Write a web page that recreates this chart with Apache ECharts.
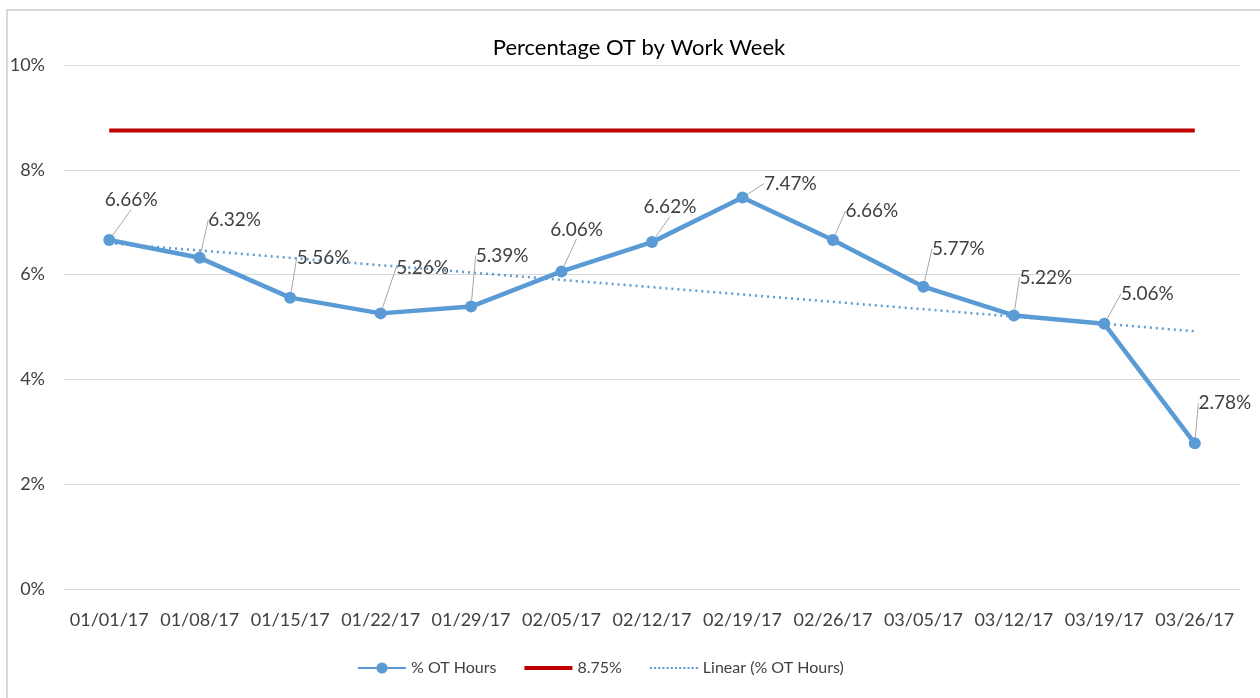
<!DOCTYPE html>
<html>
<head>
<meta charset="utf-8">
<script src="https://cdn.jsdelivr.net/npm/echarts@6/dist/echarts.min.js"></script>
<style>
  html, body { margin: 0; padding: 0; background: #fff; }
  #chart { width: 1260px; height: 698px; }
</style>
</head>
<body>
<div id="chart"></div>
<script>
// week labels
const weeks = ["01/01/17", "01/08/17", "01/15/17", "01/22/17", "01/29/17", "02/05/17", "02/12/17",
  "02/19/17", "02/26/17", "03/05/17", "03/12/17", "03/19/17", "03/26/17"];
// % OT Hours
const otHours = [6.66, 6.32, 5.56, 5.26, 5.39, 6.06, 6.62, 7.47, 6.66, 5.77, 5.22, 5.06, 2.78];
// target line
const target = [8.75, 8.75, 8.75, 8.75, 8.75, 8.75, 8.75, 8.75, 8.75, 8.75, 8.75, 8.75, 8.75];
// linear trend, read at first and last week
const trendEnds = [6.6, 4.92];
const yTicks = { min: 0, max: 10, interval: 2 };

// where each data label sits relative to its point (px)
const labelOffsets = [[22, -40], [35, -38], [33, -40], [42, -46], [31, -51], [15, -42], [18, -35],
  [48, -14], [39, -29], [35, -38], [32, -38], [43, -30], [30, -40]];

const font = "Lato, 'Open Sans', sans-serif";
const textColor = "#404040";

// legend icons: solid bar and dotted bar
const solidIcon = "path://M0,0h48v4h-48z";
let dots = "";
for (let i = 0; i < 12; i++) dots += "M" + (i * 4) + ",0h2v2h-2z";
const dottedIcon = "path://" + dots;

let myChart = echarts.init(document.getElementById("chart"));

myChart.setOption({
  animation: false,
  textStyle: { fontFamily: font },
  graphic: [{
    type: "rect",
    shape: { x: 7, y: 10, width: 1300, height: 720 },
    style: { fill: "none", stroke: "#d9d9d9", lineWidth: 2 },
    silent: true
  }],
  title: {
    text: "Percentage OT by Work Week",
    left: 634,
    textAlign: "center",
    top: 32,
    textStyle: { fontSize: 22, fontWeight: "normal", color: "#000", fontFamily: font }
  },
  grid: { left: 64, right: 20, top: 65, bottom: 109, containLabel: false },
  legend: {
    left: 352,
    top: 655,
    itemWidth: 48,
    itemHeight: 14,
    itemGap: 28,
    textStyle: { fontSize: 16, color: textColor, fontFamily: font },
    data: [
      { name: "% OT Hours" },
      { name: "8.75%", icon: solidIcon },
      { name: "Linear (% OT Hours)", icon: dottedIcon }
    ]
  },
  xAxis: {
    type: "category",
    data: weeks,
    boundaryGap: true,
    axisLine: { show: false },
    axisTick: { show: false },
    axisLabel: { fontSize: 18, color: textColor, margin: 22, interval: 0, fontFamily: font }
  },
  yAxis: {
    type: "value",
    min: yTicks.min,
    max: yTicks.max,
    interval: yTicks.interval,
    axisLine: { show: false },
    axisTick: { show: false },
    axisLabel: { fontSize: 18, color: textColor, margin: 19, formatter: "{value}%", fontFamily: font },
    splitLine: { lineStyle: { color: "#d9d9d9", width: 1 } }
  },
  series: [
    {
      name: "8.75%",
      type: "line",
      data: target,
      symbol: "none",
      z: 2,
      lineStyle: { color: "#c00000", width: 4 },
      itemStyle: { color: "#c00000" }
    },
    {
      name: "Linear (% OT Hours)",
      type: "line",
      data: [[0, trendEnds[0]], [weeks.length - 1, trendEnds[1]]],
      symbol: "none",
      z: 3,
      lineStyle: { color: "#5b9bd5", width: 2.5, type: [2, 4] },
      itemStyle: { color: "#5b9bd5" }
    },
    {
      name: "% OT Hours",
      type: "line",
      data: otHours,
      symbol: "circle",
      symbolSize: 12,
      z: 4,
      lineStyle: { color: "#5b9bd5", width: 4.5 },
      itemStyle: { color: "#5b9bd5" },
      label: {
        show: true,
        position: "inside",
        fontSize: 19,
        color: textColor,
        fontFamily: font,
        formatter: p => p.value.toFixed(2) + "%"
      },
      labelLine: { show: true, lineStyle: { color: "#a6a6a6", width: 1 } },
      labelLayout: p => ({ dx: labelOffsets[p.dataIndex][0], dy: labelOffsets[p.dataIndex][1] })
    }
  ]
});
</script>
</body>
</html>
